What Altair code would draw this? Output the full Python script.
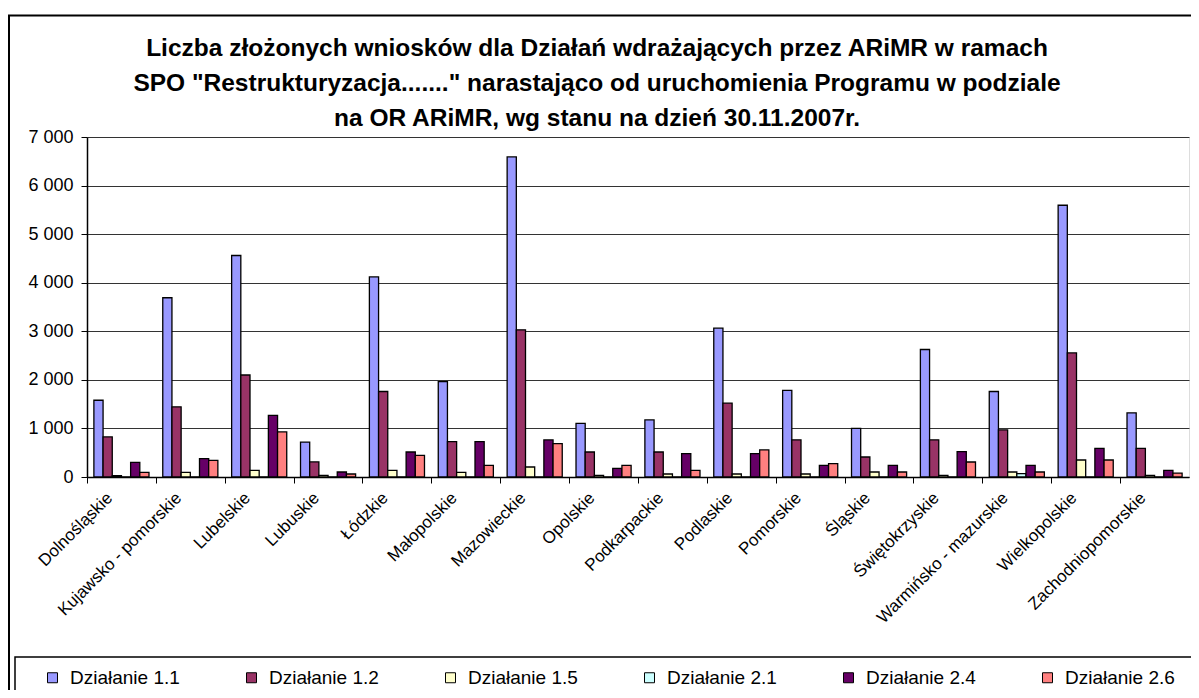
import altair as alt
import pandas as pd

regions = ["Dolnośląskie", "Kujawsko - pomorskie", "Lubelskie", "Lubuskie", "Łódzkie",
           "Małopolskie", "Mazowieckie", "Opolskie", "Podkarpackie", "Podlaskie",
           "Pomorskie", "Śląskie", "Świętokrzyskie", "Warmińsko - mazurskie",
           "Wielkopolskie", "Zachodniopomorskie"]
series = ["Działanie 1.1", "Działanie 1.2", "Działanie 1.5", "Działanie 2.1",
          "Działanie 2.4", "Działanie 2.6"]
colors = ["#9999FF", "#993366", "#FFFFCC", "#CCFFFF", "#660066", "#FF8080"]

d11 = [1580, 3690, 4560, 720, 4120, 1965, 6590, 1105, 1175, 3065, 1785, 1000, 2625, 1760, 5595, 1320]
d12 = [825, 1445, 2100, 310, 1760, 728, 3030, 515, 515, 1520, 765, 412, 765, 970, 2555, 590]
d15 = [30, 95, 136, 33, 136, 95, 206, 33, 62, 62, 62, 103, 33, 103, 350, 33]
d21 = [0, 0, 0, 0, 0, 0, 0, 0, 0, 0, 0, 0, 0, 68, 0, 0]
d24 = [300, 377, 1270, 103, 515, 728, 763, 177, 480, 480, 240, 240, 522, 240, 590, 136]
d26 = [95, 342, 928, 62, 446, 240, 687, 240, 136, 557, 274, 103, 309, 103, 350, 80]

y_ticks = [0, 1000, 2000, 3000, 4000, 5000, 6000, 7000]
title_lines = [
    "Liczba złożonych wniosków dla Działań wdrażających przez ARiMR w ramach",
    "SPO \"Restrukturyzacja.......\" narastająco od uruchomienia Programu w podziale",
    "na OR ARiMR, wg stanu na dzień 30.11.2007r.",
]

rows = []
for s, vals in zip(series, [d11, d12, d15, d21, d24, d26]):
    for r, v in zip(regions, vals):
        rows.append({"region": r, "series": s, "value": v})
df = pd.DataFrame(rows)

W, H = 1102, 340
PL, PT, PR, PB = 79, 129, 2, 213
FONT = "Liberation Sans"
step = W / len(regions)

bars = alt.Chart(df).mark_bar(stroke="black", strokeWidth=1.3).encode(
    x=alt.X("region:N", sort=regions, title=None,
            scale=alt.Scale(paddingInner=0.2, paddingOuter=0.1),
            axis=alt.Axis(labelAngle=-45, labelAlign="right", labelBaseline="middle",
                          labelFontSize=17, labelFont=FONT, labelColor="black",
                          labelPadding=12, labelOffset=step / 2 - 12,
                          tickOffset=-step / 2, tickSize=6, tickColor="black",
                          domainColor="black", domainWidth=1.5, grid=False,
                          labelOverlap=False, labelLimit=400)),
    xOffset=alt.XOffset("series:N", sort=series,
                        scale=alt.Scale(paddingInner=0, paddingOuter=0)),
    y=alt.Y("value:Q", title=None, scale=alt.Scale(domain=[0, 7000], nice=False),
            axis=alt.Axis(values=y_ticks, labelFontSize=18, labelFont=FONT, labelColor="black",
                          labelExpr="replace(format(datum.value, ','), ',', ' ')",
                          tickSize=6, tickColor="black", labelPadding=8,
                          domainColor="black", domainWidth=1.5,
                          grid=True, gridColor="#333333", gridWidth=1)),
    color=alt.Color("series:N", sort=series, title=None,
                    scale=alt.Scale(domain=series, range=colors),
                    legend=alt.Legend(orient="none", direction="horizontal", columns=6,
                                      legendX=-44, legendY=531, symbolType="square",
                                      symbolSize=100, symbolStrokeColor="black",
                                      symbolStrokeWidth=1, labelFontSize=19,
                                      labelFont=FONT, labelColor="black",
                                      columnPadding=62, labelOffset=8, padding=0)),
)

one = pd.DataFrame({"k": [0]})
outer = alt.Chart(one).mark_rect(fill="white", fillOpacity=0, stroke="black", strokeWidth=2).encode(
    x=alt.value(-78), x2=alt.value(W + PR + 1), y=alt.value(-121.5), y2=alt.value(H + PB + 20))
legend_box = alt.Chart(one).mark_rect(fill="white", fillOpacity=0, stroke="black", strokeWidth=1.5).encode(
    x=alt.value(-72), x2=alt.value(W + 40), y=alt.value(520), y2=alt.value(H + PB + 30))

chart = alt.layer(bars, legend_box, outer).properties(
    width=W, height=H,
    autosize=alt.AutoSizeParams(type="none"),
    padding={"left": PL, "top": PT, "right": PR, "bottom": PB},
    title=alt.TitleParams(text=title_lines, fontSize=24.5, font=FONT, fontWeight="bold",
                          color="black", anchor="middle", frame="group", dx=-41,
                          offset=0, dy=136, baseline="alphabetic", lineHeight=35),
).configure_view(stroke="#808080", strokeWidth=1).configure(background="white")

chart.save("out.html", embed_options={"renderer": "svg", "actions": False})
